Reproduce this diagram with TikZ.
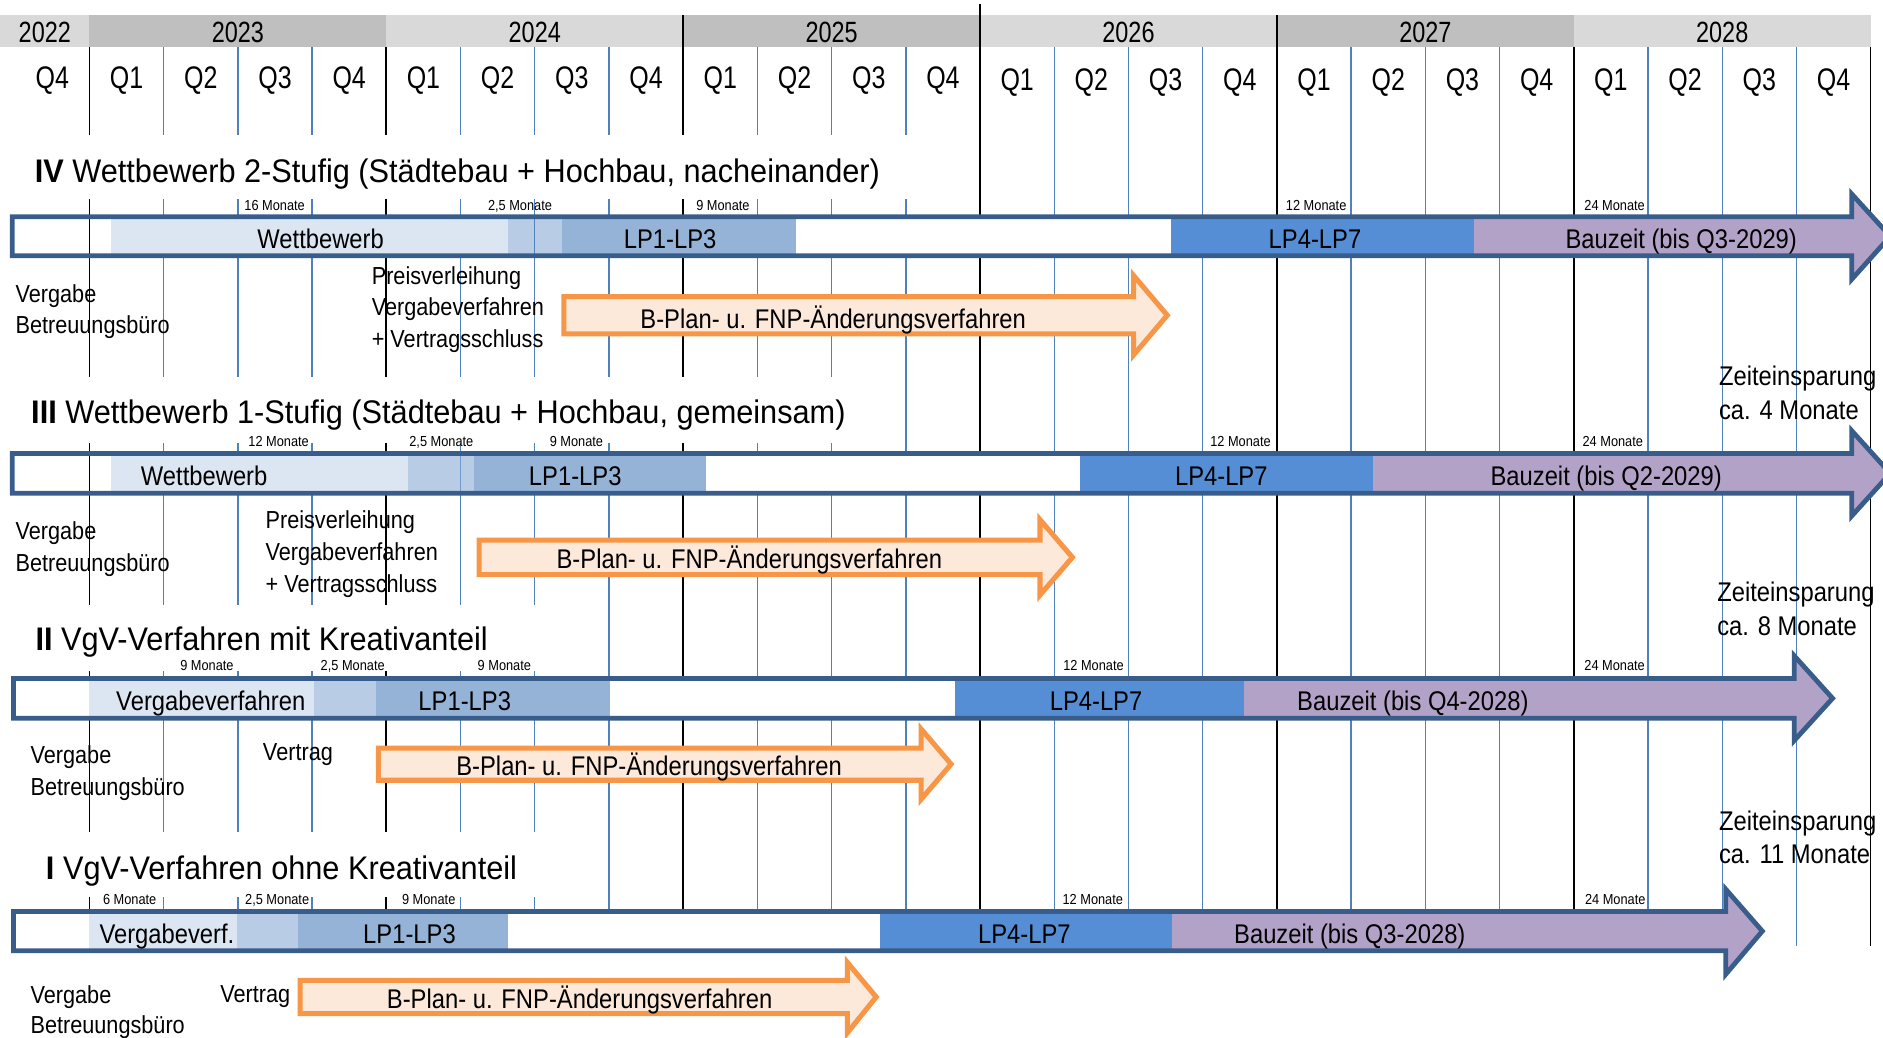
\documentclass[tikz,border=0pt]{standalone}
\usepackage{fontspec}
\setmainfont{Liberation Sans}
\newfontfamily\fQ{Liberation Sans}[FakeStretch=0.8]
\newfontfamily\fA{Liberation Sans}[FakeStretch=0.88]
\newfontfamily\fT{Liberation Sans}[FakeStretch=0.94]
\definecolor{bandL}{HTML}{D9D9D9}
\definecolor{bandD}{HTML}{BFBFBF}
\definecolor{gridblue}{HTML}{4F81BD}
\definecolor{barblue}{HTML}{385D8A}
\definecolor{segA}{HTML}{DCE6F2}
\definecolor{segB}{HTML}{8AACD4}
\definecolor{segC}{HTML}{95B3D7}
\definecolor{segD}{HTML}{558ED5}
\definecolor{segE}{HTML}{B3A2C7}
\definecolor{orangeB}{HTML}{F79646}
\definecolor{orangeF}{HTML}{FDE9D9}
\tikzset{
 txt/.style={inner sep=0pt, outer sep=0pt},
 yrlab/.style={txt, anchor=base, font=\fQ\fontsize{12.2}{14}\selectfont},
 qlab/.style={txt, anchor=base, font=\fQ\fontsize{13}{15}\selectfont},
 ttl/.style={txt, anchor=base west, font=\fT\fontsize{13.6}{16}\selectfont},
 mon/.style={txt, anchor=base, font=\fA\fontsize{6.05}{7}\selectfont},
 bartxt/.style={txt, anchor=base, font=\fA\fontsize{11.25}{13}\selectfont},
 anno/.style={txt, anchor=base west, font=\fA\fontsize{10.25}{12}\selectfont},
 zeit/.style={txt, anchor=base west, font=\fA\fontsize{11.25}{13}\selectfont},
 qline/.style={draw=gridblue, line width=0.6pt},
 yline/.style={draw=black, line width=0.7pt},
 midseg/.style={fill=segB, fill opacity=0.6},
 barout/.style={draw=barblue, line width=2pt, miter limit=10},
 orng/.style={draw=orangeB, fill=orangeF, line width=2.1pt, miter limit=10},
}
\begin{document}
\begin{tikzpicture}[x=0.5pt,y=-0.5pt]
\useasboundingbox (0,0) rectangle (1568,864);
\clip (0,0) rectangle (1568,864);
% year band
\fill[bandL] (0,12.5) rectangle (74.5,39);
\fill[bandD] (74.5,12.5) rectangle (321.7,39);
\fill[bandL] (321.7,12.5) rectangle (568.9,39);
\fill[bandD] (568.9,12.5) rectangle (816.1,39);
\fill[bandL] (816.1,12.5) rectangle (1063.3,39);
\fill[bandD] (1063.3,12.5) rectangle (1310.5,39);
\fill[bandL] (1310.5,12.5) rectangle (1557.7,39);
% segments below the grid so the semi-transparent ones show lines
% grid
\foreach \k in {0,...,24}{
  \pgfmathsetmacro\xx{74.5+61.8*\k}
  \pgfmathtruncatemacro\mm{mod(\k,4)}
  \ifnum\mm=0 \draw[yline] (\xx,39) -- (\xx,788); \else \draw[qline] (\xx,39) -- (\xx,788); \fi
}
\draw[yline] (816.1,3) -- (816.1,39);
\draw[yline] (568.9,12.5) -- (568.9,39);
\draw[yline] (1063.3,12.5) -- (1063.3,39);
% title boxes
\fill[white] (18,112.5) rectangle (785,166);
\fill[white] (18,314) rectangle (722,369);
\fill[white] (18,504) rectangle (475,558.5);
\fill[white] (18,692.5) rectangle (475,747);
% header labels
\node[yrlab] (y2022) at (37.3,35.3) {2022};
\node[yrlab] (y2023) at (198.1,35.3) {2023};
\node[yrlab] (y2024) at (445.3,35.3) {2024};
\node[yrlab] (y2025) at (692.5,35.3) {2025};
\node[yrlab] (y2026) at (939.7,35.3) {2026};
\node[yrlab] (y2027) at (1186.9,35.3) {2027};
\node[yrlab] (y2028) at (1434.1,35.3) {2028};
\foreach \k in {-1,...,23}{
  \pgfmathsetmacro\xx{74.5+61.8*(\k+0.5)}
  \pgfmathsetmacro\yy{\k<12 ? 73.6 : 75.4}
  \pgfmathtruncatemacro\qq{mod(\k+4,4)+1}
  \node[qlab] (q\k) at (\xx,\yy) {Q\qq};
}
% ===== IV =====
\fill[segA] (92.2,180.5) rectangle (423,213);
\fill[white] (423,180.5) rectangle (467.6,213);
\path[midseg] (423,180.5) rectangle (467.6,213);
\draw[qline] (445.3,180.5) -- (445.3,213);
\fill[segC] (467.6,180.5) rectangle (663,213);
\fill[white] (663,180.5) rectangle (975,213);
\fill[segD] (975,180.5) rectangle (1227.5,213);
\fill[segE] (1227.5,180.5) -- (1542,180.5) -- (1542,161.6) -- (1574,196.75) -- (1542,232.5) -- (1542,213) -- (1227.5,213) -- cycle;
\draw[barout] (10.2,180.5) -- (1542,180.5) -- (1542,161.6) -- (1574,196.75) -- (1542,232.5) -- (1542,213) -- (10.2,213) -- cycle;
\draw[orng] (469.6,247) -- (944,247) -- (944,229.5) -- (972,262.5) -- (944,295.5) -- (944,278) -- (469.6,278) -- cycle;
% ===== III =====
\fill[segA] (92.2,377.6) rectangle (339.4,410.7);
\fill[white] (339.4,377.6) rectangle (394.8,410.7);
\draw[qline] (383.5,377.6) -- (383.5,410.7);
\path[midseg] (339.4,377.6) rectangle (394.8,410.7);
\fill[segC] (394.8,377.6) rectangle (587.7,410.7);
\fill[white] (587.7,377.6) rectangle (899.3,410.7);
\fill[segD] (899.3,377.6) rectangle (1143.4,410.7);
\fill[segE] (1143.4,377.6) -- (1542,377.6) -- (1542,358.7) -- (1574,394.15) -- (1542,429.6) -- (1542,410.7) -- (1143.4,410.7) -- cycle;
\draw[barout] (10.2,377.6) -- (1542,377.6) -- (1542,358.7) -- (1574,394.15) -- (1542,429.6) -- (1542,410.7) -- (10.2,410.7) -- cycle;
\draw[orng] (399,449.7) -- (866,449.7) -- (866,432.7) -- (893,464.1) -- (866,495.5) -- (866,478.5) -- (399,478.5) -- cycle;
% ===== II =====
\fill[segA] (74.5,565) rectangle (261.7,598);
\fill[white] (261.7,565) rectangle (313,598);
\path[midseg] (261.7,565) rectangle (313,598);
\fill[segC] (313,565) rectangle (508,598);
\fill[white] (508,565) rectangle (795,598);
\fill[segD] (795,565) rectangle (1036,598);
\fill[segE] (1036,565) -- (1494,565) -- (1494,546) -- (1526,581.5) -- (1494,616.7) -- (1494,598) -- (1036,598) -- cycle;
\draw[barout] (11.2,565) -- (1494,565) -- (1494,546) -- (1526,581.5) -- (1494,616.7) -- (1494,598) -- (11.2,598) -- cycle;
\draw[orng] (315,623) -- (767,623) -- (767,607) -- (792,636.3) -- (767,665.6) -- (767,649.7) -- (315,649.7) -- cycle;
% ===== I =====
\fill[segA] (74.5,759) rectangle (197.3,791.7);
\fill[white] (197.3,759) rectangle (248.3,791.7);
\path[midseg] (197.3,759) rectangle (248.3,791.7);
\fill[segC] (248.3,759) rectangle (423,791.7);
\fill[white] (423,759) rectangle (733,791.7);
\fill[segD] (733,759) rectangle (976,791.7);
\fill[segE] (976,759) -- (1437,759) -- (1437,740.4) -- (1467.5,775.35) -- (1437,811.3) -- (1437,791.7) -- (976,791.7) -- cycle;
\draw[barout] (11.2,759) -- (1437,759) -- (1437,740.4) -- (1467.5,775.35) -- (1437,811.3) -- (1437,791.7) -- (11.2,791.7) -- cycle;
\draw[orng] (250,816.4) -- (705.6,816.4) -- (705.6,801.4) -- (729.6,830.2) -- (705.6,860) -- (705.6,844) -- (250,844) -- cycle;
% ===== titles =====
\node[ttl] (t4) at (29,152.1) {\textbf{IV} Wettbewerb 2-Stufig (Städtebau + Hochbau, nacheinander)};
\node[ttl] (t3) at (26,353) {\textbf{III} Wettbewerb 1-Stufig (Städtebau + Hochbau, gemeinsam)};
\node[ttl] (t2) at (29.6,542) {\textbf{II} VgV-Verfahren mit Kreativanteil};
\node[ttl] (t1) at (38.3,732) {\textbf{I} VgV-Verfahren ohne Kreativanteil};
% ===== month labels =====
\node[mon] (m4a) at (228.7,175.5) {16 Monate};
\node[mon] (m4b) at (433,175.5) {2,5 Monate};
\node[mon] (m4c) at (602,175.5) {9 Monate};
\node[mon] (m4d) at (1096,175.5) {12 Monate};
\node[mon] (m4e) at (1344.5,175.5) {24 Monate};
\node[mon] (m3a) at (232,372) {12 Monate};
\node[mon] (m3b) at (367.5,372) {2,5 Monate};
\node[mon] (m3c) at (480,372) {9 Monate};
\node[mon] (m3d) at (1033,372) {12 Monate};
\node[mon] (m3e) at (1343,372) {24 Monate};
\node[mon] (m2a) at (172.3,558) {9 Monate};
\node[mon] (m2b) at (293.7,558) {2,5 Monate};
\node[mon] (m2c) at (420,558) {9 Monate};
\node[mon] (m2d) at (910.6,558) {12 Monate};
\node[mon] (m2e) at (1344.5,558) {24 Monate};
\node[mon] (m1a) at (108,753.3) {6 Monate};
\node[mon] (m1b) at (230.8,753.3) {2,5 Monate};
\node[mon] (m1c) at (357,753.3) {9 Monate};
\node[mon] (m1d) at (910,753.3) {12 Monate};
\node[mon] (m1e) at (1345,753.3) {24 Monate};
% ===== bar texts =====
\node[bartxt] (b4a) at (267,206.8) {Wettbewerb};
\node[bartxt] (b4b) at (558,206.8) {LP1-LP3};
\node[bartxt] (b4c) at (1095,206.8) {LP4-LP7};
\node[bartxt] (b4d) at (1400,206.8) {Bauzeit (bis Q3-2029)};
\node[bartxt] (b3a) at (170,404.2) {Wettbewerb};
\node[bartxt] (b3b) at (479,404.2) {LP1-LP3};
\node[bartxt] (b3c) at (1017,404.2) {LP4-LP7};
\node[bartxt] (b3d) at (1337.5,404.2) {Bauzeit (bis Q2-2029)};
\node[bartxt] (b2a) at (175.5,591.5) {Vergabeverfahren};
\node[bartxt] (b2b) at (387,591.5) {LP1-LP3};
\node[bartxt] (b2c) at (912.7,591.5) {LP4-LP7};
\node[bartxt] (b2d) at (1176.5,591.5) {Bauzeit (bis Q4-2028)};
\node[bartxt] (b1a) at (139,785.4) {Vergabeverf.};
\node[bartxt] (b1b) at (341,785.4) {LP1-LP3};
\node[bartxt] (b1c) at (853,785.4) {LP4-LP7};
\node[bartxt] (b1d) at (1124,785.4) {Bauzeit (bis Q3-2028)};
\node[bartxt] (o4) at (693.8,273.4) {B-Plan- u. FNP-Änderungsverfahren};
\node[bartxt] (o3) at (624,473.6) {B-Plan- u. FNP-Änderungsverfahren};
\node[bartxt] (o2) at (540.5,645.5) {B-Plan- u. FNP-Änderungsverfahren};
\node[bartxt] (o1) at (482.7,839.5) {B-Plan- u. FNP-Änderungsverfahren};
% ===== annotations =====
\node[anno] (a4a) at (13,252) {Vergabe};
\node[anno] (a4b) at (13,278) {Betreuungsbüro};
\node[anno] (a4c) at (309.6,236.5) {Preisverleihung};
\node[anno] (a4d) at (309.6,263) {Vergabeverfahren};
\node[anno] (a4e) at (309.6,289.5) {+ Vertragsschluss};
\node[anno] (a3a) at (13,449) {Vergabe};
\node[anno] (a3b) at (13,475.5) {Betreuungsbüro};
\node[anno] (a3c) at (221.2,440) {Preisverleihung};
\node[anno] (a3d) at (221.2,466.5) {Vergabeverfahren};
\node[anno] (a3e) at (221.2,493) {+ Vertragsschluss};
\node[anno] (a2a) at (25.5,636) {Vergabe};
\node[anno] (a2b) at (25.5,662) {Betreuungsbüro};
\node[anno] (a2c) at (219,633.4) {Vertrag};
\node[anno] (a1a) at (25.5,835.5) {Vergabe};
\node[anno] (a1b) at (25.5,860.5) {Betreuungsbüro};
\node[anno] (a1c) at (183.5,835) {Vertrag};
% ===== time savings =====
\node[zeit] (z4a) at (1431.5,320.6) {Zeiteinsparung};
\node[zeit] (z4b) at (1431.5,349.2) {ca. 4 Monate};
\node[zeit] (z3a) at (1430,500.5) {Zeiteinsparung};
\node[zeit] (z3b) at (1430,528.8) {ca. 8 Monate};
\node[zeit] (z2a) at (1431.5,691.2) {Zeiteinsparung};
\node[zeit] (z2b) at (1431.5,719) {ca. 11 Monate};
\end{tikzpicture}
\end{document}
